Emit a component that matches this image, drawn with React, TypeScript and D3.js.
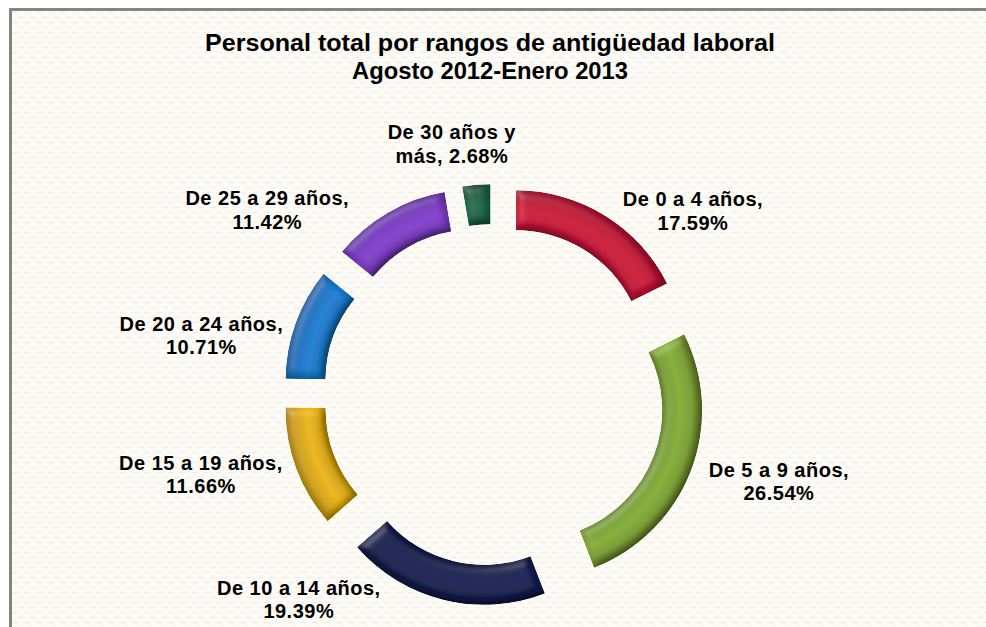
import { useEffect, useRef } from 'react'
import * as d3 from 'd3'

// Personal total por rangos de antigüedad laboral (Agosto 2012-Enero 2013)
const categories = [
  'De 0 a 4 años',
  'De 5 a 9 años',
  'De 10 a 14 años',
  'De 15 a 19 años',
  'De 20 a 24 años',
  'De 25 a 29 años',
  'De 30 años y más',
]
const values = [17.59, 26.54, 19.39, 11.66, 10.71, 11.42, 2.68]
const colors = ['#BD1236', '#7A9E32', '#121C4E', '#D6A50A', '#1774C0', '#783ABC', '#1B6243']
const titleLines = ['Personal total por rangos de antigüedad laboral', 'Agosto 2012-Enero 2013']

// label tweaks relative to the point just outside each slice (Excel moved them by hand)
const labelNudges = [[73, 20], [61, 0], [-138, -29], [-68, -4], [-67, 22], [-106, 22], [-22, -12]]

const W = 986
const H = 627

// greedy wrap, roughly what Excel does with its label box
function wrapLabel(text, maxChars) {
  const words = text.split(' ')
  const lines = []
  let line = ''
  words.forEach(w => {
    const next = line ? line + ' ' + w : w
    if (next.length > maxChars && line) {
      lines.push(line)
      line = w
    } else {
      line = next
    }
  })
  if (line) lines.push(line)
  return lines
}

export default function App() {
  const ref = useRef<SVGSVGElement>(null)

  useEffect(() => {
    if (!ref.current) return
    const svg = d3.select(ref.current)
    svg.selectAll('*').remove()

    const cx = 494
    const cy = 395
    const rOuter = 169
    const rInner = 129
    const explode = 42

    const defs = svg.append('defs')

    // faint woven background
    const pat = defs.append('pattern')
      .attr('id', 'bg-pat')
      .attr('patternUnits', 'userSpaceOnUse')
      .attr('width', 12)
      .attr('height', 10)
    pat.append('rect').attr('width', 12).attr('height', 10).attr('fill', '#FDFBF6')
    pat.append('line').attr('x1', 0).attr('x2', 6).attr('y1', 2.5).attr('y2', 2.5)
      .attr('stroke', '#F3EEE4').attr('stroke-width', 1.2)
    pat.append('line').attr('x1', 6).attr('x2', 12).attr('y1', 7.5).attr('y2', 7.5)
      .attr('stroke', '#F3EEE4').attr('stroke-width', 1.2)

    // bevel look for the ring pieces
    const f = defs.append('filter')
      .attr('id', 'bevel')
      .attr('x', '-20%').attr('y', '-20%').attr('width', '140%').attr('height', '140%')
    f.append('feGaussianBlur').attr('in', 'SourceAlpha').attr('stdDeviation', 4).attr('result', 'blur')
    const diff = f.append('feDiffuseLighting')
      .attr('in', 'blur').attr('surfaceScale', 4).attr('diffuseConstant', 1)
      .attr('lighting-color', '#ffffff').attr('result', 'diff')
    diff.append('feDistantLight').attr('azimuth', 225).attr('elevation', 60)
    const spec = f.append('feSpecularLighting')
      .attr('in', 'blur').attr('surfaceScale', 4).attr('specularConstant', 0.45)
      .attr('specularExponent', 25).attr('lighting-color', '#ffffff').attr('result', 'spec')
    spec.append('feDistantLight').attr('azimuth', 225).attr('elevation', 45)
    f.append('feComposite').attr('in', 'spec').attr('in2', 'SourceAlpha').attr('operator', 'in').attr('result', 'specIn')
    f.append('feComposite').attr('in', 'SourceGraphic').attr('in2', 'diff')
      .attr('operator', 'arithmetic').attr('k1', 1.12).attr('k2', 0).attr('k3', 0).attr('k4', 0).attr('result', 'lit')
    f.append('feComposite').attr('in', 'lit').attr('in2', 'specIn')
      .attr('operator', 'arithmetic').attr('k1', 0).attr('k2', 1).attr('k3', 0.2).attr('k4', 0).attr('result', 'litSpec')
    f.append('feComposite').attr('in', 'litSpec').attr('in2', 'SourceAlpha').attr('operator', 'in')

    colors.forEach((c, i) => {
      const g = defs.append('radialGradient')
        .attr('id', `ring-${i}`)
        .attr('gradientUnits', 'userSpaceOnUse')
        .attr('cx', 0).attr('cy', 0).attr('r', rOuter)
      const base = d3.color(c)
      const stops = [
        [rInner / rOuter, base.darker(0.6)],
        [0.8, base],
        [0.87, base.brighter(0.3)],
        [0.94, base],
        [1, base.darker(0.7)],
      ]
      stops.forEach(([o, col]) => {
        g.append('stop').attr('offset', o).attr('stop-color', col.formatHex())
      })
    })

    svg.append('rect').attr('width', W).attr('height', H).attr('fill', '#ffffff')
    svg.append('rect')
      .attr('x', 10.5).attr('y', 9.5)
      .attr('width', W + 20).attr('height', H + 20)
      .attr('fill', 'url(#bg-pat)')
      .attr('stroke', '#858585')
      .attr('stroke-width', 3)

    // title
    const title = svg.append('text')
      .attr('text-anchor', 'middle')
      .attr('font-family', '"Liberation Sans", Arial, sans-serif')
      .attr('font-weight', 'bold')
      .attr('font-size', 23)
      .attr('fill', '#000')
    title.append('tspan').attr('x', 490).attr('y', 51)
      .attr('textLength', 570).attr('lengthAdjust', 'spacingAndGlyphs')
      .text(titleLines[0])
    title.append('tspan').attr('x', 490).attr('y', 79)
      .attr('textLength', 276).attr('lengthAdjust', 'spacingAndGlyphs')
      .text(titleLines[1])

    const pie = d3.pie<number>().sort(null).value(d => d)
    const arcs = pie(values)
    const arc = d3.arc<d3.PieArcDatum<number>>().innerRadius(rInner).outerRadius(rOuter)

    const chart = svg.append('g').attr('transform', `translate(${cx},${cy})`)

    const slices = chart.selectAll('.slice')
      .data(arcs)
      .enter()
      .append('g')
      .attr('class', 'slice')
      .attr('transform', d => {
        const mid = (d.startAngle + d.endAngle) / 2
        return `translate(${Math.sin(mid) * explode},${-Math.cos(mid) * explode})`
      })

    slices.append('path')
      .attr('d', arc)
      .attr('fill', (d, i) => `url(#ring-${i})`)
      .attr('filter', 'url(#bevel)')

    // data labels, outside end + nudge
    const labelR = 240
    const label = chart.selectAll('.lbl')
      .data(arcs)
      .enter()
      .append('text')
      .attr('class', 'lbl')
      .attr('text-anchor', 'middle')
      .attr('font-family', '"Liberation Sans", Arial, sans-serif')
      .attr('font-weight', 'bold')
      .attr('font-size', 20)
      .attr('letter-spacing', 0.5)
      .attr('fill', '#000')

    label.each(function (d, i) {
      const mid = (d.startAngle + d.endAngle) / 2
      const x = Math.sin(mid) * labelR + labelNudges[i][0]
      const y = -Math.cos(mid) * labelR + labelNudges[i][1]
      const lines = wrapLabel(`${categories[i]}, ${values[i].toFixed(2)}%`, 16)
      const t = d3.select(this)
      lines.forEach((ln, k) => {
        t.append('tspan')
          .attr('x', x)
          .attr('y', y - 4.5 - (lines.length - 2) * 11.75 + k * 23.5)
          .text(ln)
      })
    })
  }, [])

  return (
    <svg
      ref={ref}
      width={W}
      height={H}
      style={{ position: 'absolute', left: 0, top: 0, display: 'block' }}
    />
  )
}
